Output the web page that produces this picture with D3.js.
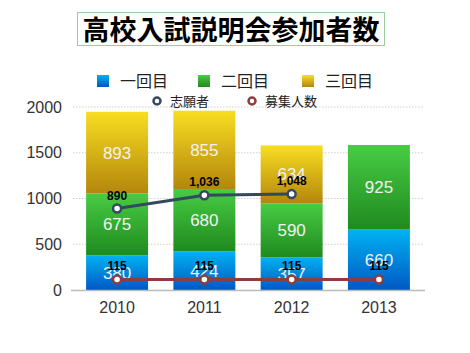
<!DOCTYPE html>
<html>
<head>
<meta charset="utf-8">
<script src="https://cdn.jsdelivr.net/npm/d3@7"></script>
<style>
  body { margin: 0; background: #fff; }
  svg { font-family: "Liberation Sans", "Noto Sans CJK JP", sans-serif; }
</style>
</head>
<body>
<div class="chart"></div>
<script>
var years = ["2010", "2011", "2012", "2013"];
var round1 = [380, 424, 357, 660];
var round2 = [675, 680, 590, 925];
var round3 = [893, 855, 634, 0];
var applicants = [890, 1036, 1048];
var capacity = [115, 115, 115, 115];
var yTicks = [0, 500, 1000, 1500, 2000];

function init() {
  var w = 470, h = 353;
  var left = 73, right = 423, top = 107, bottom = 290;

  var svg = d3.select(".chart").append("svg")
    .attr("width", w).attr("height", h);

  var defs = svg.append("defs");
  function grad(id, c1, c2) {
    var g = defs.append("linearGradient").attr("id", id)
      .attr("x1", 0).attr("y1", 0).attr("x2", 0).attr("y2", 1);
    g.append("stop").attr("offset", "0%").attr("stop-color", c1);
    g.append("stop").attr("offset", "100%").attr("stop-color", c2);
  }
  grad("gBlue", "#00b2f2", "#0058c4");
  grad("gGreen", "#48cc44", "#1f8a1f");
  grad("gYellow", "#f8de22", "#b4860c");

  // title
  svg.append("rect").attr("x", 77.5).attr("y", 12.5).attr("width", 307).attr("height", 33)
    .attr("fill", "#fff").attr("stroke", "#9ccc9c").attr("stroke-width", 1);
  svg.append("text").attr("x", 231).attr("y", 40).attr("text-anchor", "middle")
    .style("font-size", "27px").style("font-weight", "bold")
    .style("font-family", "'Noto Sans CJK JP', sans-serif")
    .text("高校入試説明会参加者数");

  var x = d3.scaleBand().domain(years).range([left, right]).paddingInner(0.29).paddingOuter(0.15);
  var y = d3.scaleLinear().domain([0, 2000]).range([bottom, top]);

  // grid
  svg.selectAll(".grid").data(yTicks.slice(1)).enter().append("line")
    .attr("x1", left).attr("x2", right)
    .attr("y1", function(d) { return y(d); }).attr("y2", function(d) { return y(d); })
    .attr("stroke", "#cfcfcf").attr("stroke-dasharray", "1.5,1.5");

  var yAxis = d3.axisLeft(y).tickValues(yTicks).tickFormat(d3.format("d")).tickSize(0).tickPadding(11);
  var gy = svg.append("g").attr("transform", "translate(" + left + ",0)").call(yAxis);
  gy.select(".domain").remove();
  gy.selectAll("text").style("font-size", "16px").attr("fill", "#333")
    .style("font-family", "'Liberation Sans', sans-serif");

  // stacked data
  var rows = years.map(function(yr, i) {
    return { year: yr, r1: round1[i], r2: round2[i], r3: round3[i] };
  });
  var stack = d3.stack().keys(["r1", "r2", "r3"])(rows);
  var fills = ["url(#gBlue)", "url(#gGreen)", "url(#gYellow)"];

  stack.forEach(function(layer, li) {
    var g = svg.append("g");
    g.selectAll("rect").data(layer).enter().append("rect")
      .attr("x", function(d) { return x(d.data.year); })
      .attr("width", x.bandwidth())
      .attr("y", function(d) { return y(d[1]); })
      .attr("height", function(d) { return y(d[0]) - y(d[1]); })
      .attr("fill", fills[li]);
    g.selectAll("text").data(layer.filter(function(d) { return d[1] > d[0]; })).enter().append("text")
      .attr("x", function(d) { return x(d.data.year) + x.bandwidth() / 2; })
      .attr("y", function(d) { return (y(d[0]) + y(d[1])) / 2 + 6; })
      .attr("text-anchor", "middle").attr("fill", "#f2f2f2")
      .style("font-size", "17px")
      .text(function(d) { return d[1] - d[0]; });
  });

  // x axis
  svg.append("line").attr("x1", left - 2).attr("x2", right + 2)
    .attr("y1", bottom + 0.5).attr("y2", bottom + 0.5)
    .attr("stroke", "#bbb").attr("stroke-width", 1.5);
  svg.selectAll(".xl").data(years).enter().append("text")
    .attr("x", function(d) { return x(d) + x.bandwidth() / 2; })
    .attr("y", 313).attr("text-anchor", "middle")
    .style("font-size", "16px").attr("fill", "#333").text(function(d) { return d; });

  var cx = function(d, i) { return x(years[i]) + x.bandwidth() / 2; };

  function series(vals, color) {
    var line = d3.line().x(function(d, i) { return cx(d, i); }).y(function(d) { return y(d); });
    svg.append("path").datum(vals).attr("d", line)
      .attr("fill", "none").attr("stroke", color).attr("stroke-width", 3);
    svg.selectAll(null).data(vals).enter().append("circle")
      .attr("cx", cx).attr("cy", function(d) { return y(d); }).attr("r", 4)
      .attr("fill", "#fff").attr("stroke", color).attr("stroke-width", 2.5);
    svg.selectAll(null).data(vals).enter().append("text")
      .attr("x", cx).attr("y", function(d) { return y(d) - 9; })
      .attr("text-anchor", "middle").style("font-size", "12px").style("font-weight", "bold")
      .attr("fill", "#000").text(function(d) { return d3.format(",")(d); });
  }
  series(applicants, "#34495e");
  series(capacity, "#8a3e42");

  // legend
  var leg1 = [
    { label: "一回目", fill: "url(#gBlue)", x: 97 },
    { label: "二回目", fill: "url(#gGreen)", x: 198 },
    { label: "三回目", fill: "url(#gYellow)", x: 302 }
  ];
  leg1.forEach(function(d) {
    svg.append("rect").attr("x", d.x).attr("y", 75).attr("width", 12).attr("height", 12).attr("fill", d.fill);
    svg.append("text").attr("x", d.x + 23).attr("y", 87)
      .style("font-size", "16px").attr("fill", "#222").text(d.label);
  });
  var leg2 = [
    { label: "志願者", color: "#34495e", x: 157 },
    { label: "募集人数", color: "#8a3e42", x: 252 }
  ];
  leg2.forEach(function(d) {
    svg.append("circle").attr("cx", d.x).attr("cy", 101).attr("r", 3.5)
      .attr("fill", "#fff").attr("stroke", d.color).attr("stroke-width", 2.5);
    svg.append("text").attr("x", d.x + 13).attr("y", 106)
      .style("font-size", "13px").attr("fill", "#222").text(d.label);
  });
}
window.onload = init;
</script>
</body>
</html>
